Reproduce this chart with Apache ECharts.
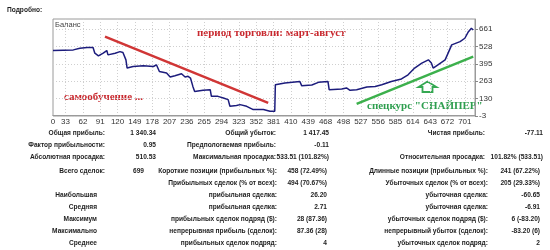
<!DOCTYPE html>
<html><head><meta charset="utf-8">
<script src="https://cdn.jsdelivr.net/npm/echarts@6/dist/echarts.min.js"></script>
<style>html,body{margin:0;padding:0;background:#fff}#c{width:550px;height:250px}</style>
</head><body><div id="c"></div>
<script>
// ---- data ----
const tradeNo = [12,46,57,69,79,82,88,96,102,104,116,124,129,134,136,146,163,180,185,190,202,208,216,227,233,238,242,246,249,263,275,277,288,297,305,308,319,325,336,347,364,375,378,383,384,400,425,428,445,456,472,474,495,503,509,520,537,551,562,578,595,606,617,629,640,642,645,648,656,668,673,679,693,701,707,712,715];
const balance = [497,502,515,520,520,477,457,477,497,464,477,489,482,426,363,375,381,375,388,337,325,295,305,320,295,300,287,223,185,193,198,147,147,135,122,71,77,84,71,46,46,33,21,33,236,249,261,229,234,254,261,198,204,211,193,198,219,223,236,261,280,312,363,401,426,432,401,363,388,426,477,540,565,591,641,667,654];
const xTickLabels = [0,33,62,91,120,149,178,207,236,265,294,323,352,381,410,439,468,498,527,556,585,614,643,672,701];
const yTickLabels = [-3,130,263,395,528,661];
const redTrend = [[99,603],[372,97]];
const greenTrend = [[520,90],[715,451]];
const statsTop = [
  ["Общая прибыль:","1 340.34","Общий убыток:","1 417.45","Чистая прибыль:","-77.11"],
  ["Фактор прибыльности:","0.95","Предпологаемая прибыль:","-0.11","",""],
  ["Абсолютная просадка:","510.53","Максимальная просадка:","533.51 (101.82%)","Относительная просадка:","101.82% (533.51)"]
];
const statsBottom = [
  ["Всего сделок:","699","Короткие позиции (прибыльных %):","458 (72.49%)","Длинные позиции (прибыльных %):","241 (67.22%)"],
  ["","","Прибыльных сделок (% от всех):","494 (70.67%)","Убыточных сделок (% от всех):","205 (29.33%)"],
  ["Наибольшая","","прибыльная сделка:","26.20","убыточная сделка:","-60.65"],
  ["Средняя","","прибыльная сделка:","2.71","убыточная сделка:","-6.91"],
  ["Максимум","","прибыльных сделок подряд ($):","28 (87.36)","убыточных сделок подряд ($):","6 (-83.20)"],
  ["Максимально","","непрерывная прибыль (сделок):","87.36 (28)","непрерывный убыток (сделок):","-83.20 (6)"],
  ["Среднее","","прибыльных сделок подряд:","4","убыточных сделок подряд:","2"]
];

// ---- layout ----
const X_MIN = 12, X_MAX = 718, Y_MIN = -3, Y_MAX = 738;
const tableFont = 'bold 6.6px "Liberation Sans", Arial, sans-serif';
const tableColor = '#1e1e1e';
const topRowsY = [133,145,157];
const botRowsY = [171,183,195,207,219,231,243];
const topColsX = [105,156,276,329,485,543];
const botColsX = [105,144,277,327,488,540];

const graphics = [];
function txt(t, x, y, align, font, color){
  if(!t) return;
  graphics.push({type:'text', silent:true, style:{text:t, x:x, y:y, align:align, verticalAlign:'middle', font:font, fill:color}});
}
txt('Подробно:', 7, 10, 'left', tableFont, tableColor);
txt('Баланс', 55, 24.5, 'left', '7.5px "Liberation Sans", Arial, sans-serif', '#444');
statsTop.forEach((row,i)=>row.forEach((t,j)=>txt(t, topColsX[j], topRowsY[i], 'right', tableFont, tableColor)));
statsBottom.forEach((row,i)=>row.forEach((t,j)=>{
  let x = botColsX[j];
  if(j===0 && !t.endsWith(':')) x = 97;
  txt(t, x, botRowsY[i], 'right', tableFont, tableColor);
}));
const annFont = 'bold 11px "Liberation Serif", "Times New Roman", serif';
txt('период торговли: март-август', 197, 33, 'left', annFont, '#c8282e');
txt('самообучение ...', 64, 97.5, 'left', annFont, '#c8282e');
txt('спецкурс "СНАЙПЕР"', 367, 106, 'left', annFont, '#2e9e4f');
graphics.push({type:'polygon', silent:true, shape:{points:[[427.5,81.5],[418.5,87],[422.5,87],[422.5,92],[432.5,92],[432.5,87],[436.5,87]]},
  style:{fill:'#fff', stroke:'#35a852', lineWidth:1.8}});

const chart = echarts.init(document.getElementById('c'), null, {renderer:'canvas'});
const axisFont = {fontSize:8, fontFamily:'"Liberation Sans", Arial, sans-serif', color:'#333'};
chart.setOption({
  animation:false,
  backgroundColor:'#fff',
  grid:{left:53, right:75, top:19, bottom:134, show:true, borderColor:'#9a9a9a', borderWidth:1, backgroundColor:'#fff'},
  xAxis:{type:'value', min:X_MIN, max:X_MAX,
    axisLine:{show:true, lineStyle:{color:'#9a9a9a'}},
    axisTick:{show:false, customValues: xTickLabels.slice(1)},
    axisLabel:Object.assign({customValues:[X_MIN].concat(xTickLabels.slice(1)), margin:2,
      formatter:v=> v===X_MIN ? String(xTickLabels[0]) : String(v)}, axisFont),
    splitLine:{show:true, lineStyle:{color:'#cfcfcf', type:[1,2], width:1}}
  },
  yAxis:{type:'value', position:'right', min:Y_MIN, max:Y_MAX,
    axisLine:{show:true, lineStyle:{color:'#9a9a9a'}},
    axisTick:{show:true, length:3, customValues:yTickLabels, lineStyle:{color:'#888'}},
    axisLabel:Object.assign({customValues:yTickLabels, margin:4, formatter:v=>String(v)}, axisFont),
    splitLine:{show:true, lineStyle:{color:'#cfcfcf', type:[1,2], width:1}}
  },
  series:[
    {type:'line', data:tradeNo.map((t,i)=>[t,balance[i]]), symbol:'none', lineStyle:{color:'#1c1c7c', width:1.5}, z:3},
    {type:'line', data:redTrend, symbol:'none', lineStyle:{color:'#d03636', width:2.5}, z:4},
    {type:'line', data:greenTrend, symbol:'none', lineStyle:{color:'#3cb04c', width:2.5}, z:4}
  ],
  graphic:graphics
});
</script></body></html>
